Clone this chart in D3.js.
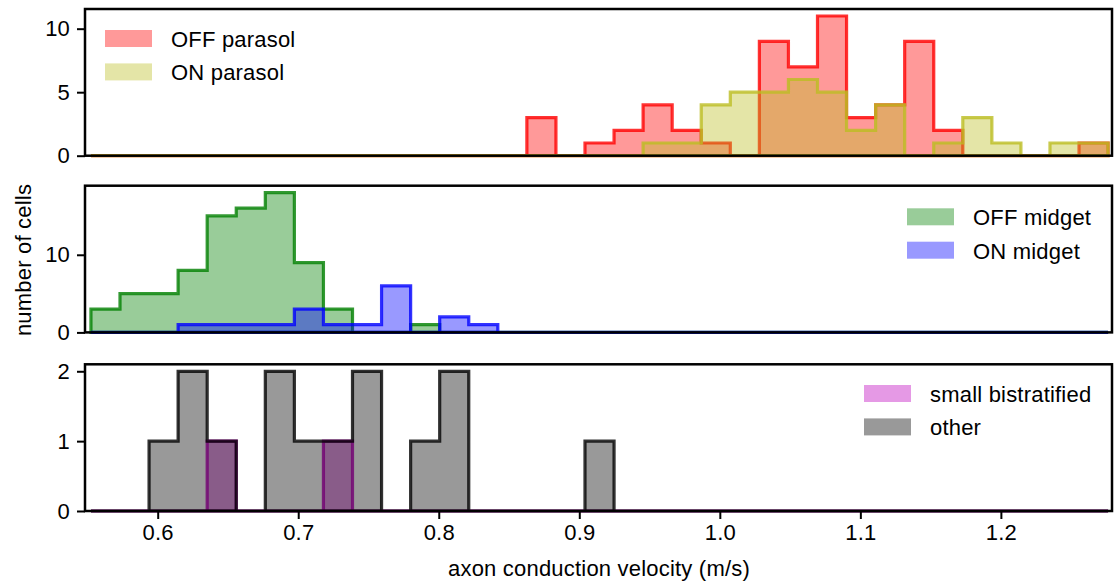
<!DOCTYPE html>
<html>
<head>
<meta charset="utf-8">
<script src="https://cdn.jsdelivr.net/npm/d3@7"></script>
<style>
  body { margin: 0; background: #fff; }
  text { font-family: "Liberation Sans", Arial, Helvetica, sans-serif; font-size: 22px; fill: #000; letter-spacing: 0.2px; }
</style>
</head>
<body>
<div id="chart"></div>
<script>
// bins shared by every histogram
const binStart = 0.5525;
const binWidth = 0.02068;

// counts per bin (35 bins)
const offParasol = [0,0,0,0,0,0,0,0,0,0,0,0,0,0,0,3,0,1,2,4,2,1,0,9,7,11,3,4,9,2,0,0,0,0,1];
const onParasol  = [0,0,0,0,0,0,0,0,0,0,0,0,0,0,0,0,0,0,0,1,1,4,5,5,6,5,2,4,0,1,3,1,0,1,1];
const offMidget  = [3,5,5,8,15,16,18,9,3,0,0,1,0,0,0,0,0,0,0,0,0,0,0,0,0,0,0,0,0,0,0,0,0,0,0];
const onMidget   = [0,0,0,1,1,1,1,3,1,1,6,0,2,1,0,0,0,0,0,0,0,0,0,0,0,0,0,0,0,0,0,0,0,0,0];
const smallBistratified = [0,0,0,0,1,0,0,0,1,0,0,0,0,0,0,0,0,0,0,0,0,0,0,0,0,0,0,0,0,0,0,0,0,0,0];
const other      = [0,0,1,2,1,0,2,1,1,2,0,1,2,0,0,0,0,1,0,0,0,0,0,0,0,0,0,0,0,0,0,0,0,0,0];

const xTicks = [0.6, 0.7, 0.8, 0.9, 1.0, 1.1, 1.2];

//size
const width = 1114;
const height = 585;
const left = 85, right = 1112;
const panelH = 146.7;

const panels = [
  { top: 9, yMax: 11.55, yTicks: [0, 5, 10],
    series: [
      { name: "OFF parasol", counts: offParasol, color: "#ff0000" },
      { name: "ON parasol", counts: onParasol, color: "#bcbd22" }
    ],
    legend: { x: 105, y: 30 } },
  { top: 185.7, yMax: 18.9, yTicks: [0, 10],
    series: [
      { name: "OFF midget", counts: offMidget, color: "#008000" },
      { name: "ON midget", counts: onMidget, color: "#0000ff" }
    ],
    legend: { x: 907, y: 208.3 } },
  { top: 364.3, yMax: 2.1, yTicks: [0, 1, 2],
    series: [
      { name: "small bistratified", counts: smallBistratified, color: "#bf00bf" },
      { name: "other", counts: other, color: "#000000" }
    ],
    legend: { x: 864, y: 385 } }
];

//scale
const x = d3.scaleLinear().domain([0.54827, 1.27907]).range([left, right]);

const svg = d3.select("#chart").append("svg")
  .attr("width", width).attr("height", height);

function stepPoints(counts) {
  const pts = [[binStart, 0]];
  counts.forEach((c, i) => {
    pts.push([binStart + i * binWidth, c], [binStart + (i + 1) * binWidth, c]);
  });
  pts.push([binStart + counts.length * binWidth, 0]);
  return pts;
}

panels.forEach((p, pi) => {
  const y = d3.scaleLinear().domain([0, p.yMax]).range([p.top + panelH, p.top]);
  const g = svg.append("g");
  const line = d3.line().x(d => x(d[0])).y(d => y(d[1]));

  //histograms
  p.series.forEach(s => {
    const d = line(stepPoints(s.counts)) + "Z";
    g.append("path").attr("d", d)
      .attr("fill", s.color).attr("fill-opacity", 0.4).attr("stroke", "none");
    g.append("path").attr("d", d)
      .attr("fill", "none").attr("stroke", s.color).attr("stroke-opacity", 0.8)
      .attr("stroke-width", 3.2).attr("stroke-linejoin", "miter");
  });

  //spines
  g.append("rect")
    .attr("x", left).attr("y", p.top)
    .attr("width", right - left).attr("height", panelH)
    .attr("fill", "none").attr("stroke", "#000").attr("stroke-width", 2.5);

  //y axis
  const ya = g.append("g").attr("transform", `translate(${left},0)`)
    .call(d3.axisLeft(y).tickValues(p.yTicks).tickFormat(d3.format("d")).tickSize(8).tickPadding(7));
  ya.select(".domain").remove();
  ya.selectAll(".tick line").attr("stroke", "#000").attr("stroke-width", 2);
  ya.selectAll(".tick text").attr("font-size", null).attr("font-family", null)
    .style("font-size", "22px");

  //x axis only on bottom panel
  if (pi === panels.length - 1) {
    const xa = g.append("g").attr("transform", `translate(0,${p.top + panelH})`)
      .call(d3.axisBottom(x).tickValues(xTicks).tickFormat(d3.format(".1f")).tickSize(8).tickPadding(5));
    xa.select(".domain").remove();
    xa.selectAll(".tick line").attr("stroke", "#000").attr("stroke-width", 2);
    xa.selectAll(".tick text").attr("font-size", null).attr("font-family", null)
      .style("font-size", "22px");
  }

  //legend
  const lg = g.append("g").attr("transform", `translate(${p.legend.x},${p.legend.y})`);
  const item = lg.selectAll("g.legend-item").data(p.series).join("g")
    .attr("class", "legend-item")
    .attr("transform", (d, i) => `translate(0,${i * 33.4})`);
  item.append("rect").attr("width", 47).attr("height", 17)
    .attr("fill", d => d.color).attr("fill-opacity", 0.4);
  item.append("text").attr("x", 66).attr("y", 17).text(d => d.name);
});

//axis labels
svg.append("text")
  .attr("transform", "translate(31,260) rotate(-90)")
  .attr("text-anchor", "middle")
  .text("number of cells");

svg.append("text")
  .attr("x", 599).attr("y", 576)
  .attr("text-anchor", "middle")
  .text("axon conduction velocity (m/s)");
</script>
</body>
</html>
